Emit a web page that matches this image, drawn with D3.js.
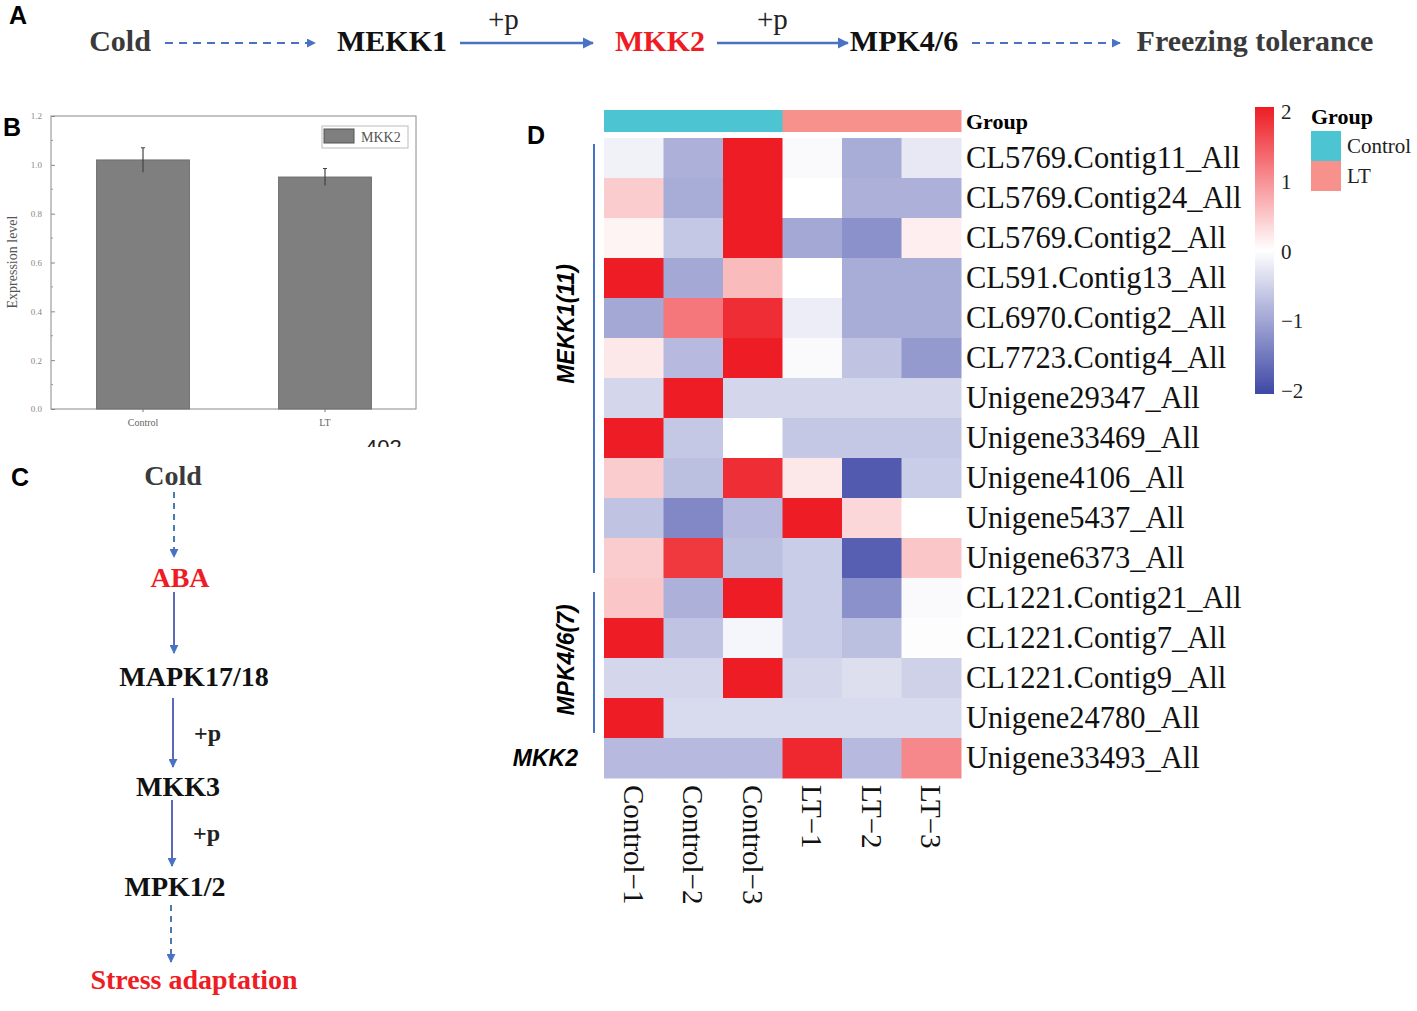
<!DOCTYPE html>
<html>
<head>
<meta charset="utf-8">
<title>MKK2 figure</title>
<script src="https://cdn.jsdelivr.net/npm/d3@7"></script>
<style>
  body { margin: 0; background: #fff; }
  svg { display: block; }
</style>
</head>
<body>
<script>
// ---- data ----
var genes = ["CL5769.Contig11_All", "CL5769.Contig24_All", "CL5769.Contig2_All", "CL591.Contig13_All",
  "CL6970.Contig2_All", "CL7723.Contig4_All", "Unigene29347_All", "Unigene33469_All", "Unigene4106_All",
  "Unigene5437_All", "Unigene6373_All", "CL1221.Contig21_All", "CL1221.Contig7_All", "CL1221.Contig9_All",
  "Unigene24780_All", "Unigene33493_All"];
var samples = ["Control−1", "Control−2", "Control−3", "LT−1", "LT−2", "LT−3"];
var sampleGroup = ["Control", "Control", "Control", "LT", "LT", "LT"];
var groupNames = ["Control", "LT"];
// z-scores, one row per gene, columns in sample order
var zscore = [
  [-0.15, -0.85, 2.0, -0.05, -0.9, -0.25],
  [0.45, -0.9, 2.0, 0.0, -0.85, -0.85],
  [0.1, -0.6, 2.0, -0.95, -1.2, 0.15],
  [2.0, -0.95, 0.6, 0.0, -0.9, -0.9],
  [-0.95, 1.2, 1.85, -0.2, -0.9, -0.9],
  [0.2, -0.75, 2.0, -0.05, -0.65, -1.1],
  [-0.45, 2.0, -0.45, -0.45, -0.45, -0.45],
  [2.0, -0.6, 0.0, -0.6, -0.6, -0.6],
  [0.45, -0.7, 1.85, 0.2, -1.8, -0.55],
  [-0.65, -1.3, -0.75, 2.0, 0.35, 0.0],
  [0.45, 1.75, -0.7, -0.55, -1.75, 0.5],
  [0.5, -0.85, 2.0, -0.55, -1.2, -0.05],
  [2.0, -0.65, -0.1, -0.55, -0.7, -0.02],
  [-0.45, -0.45, 2.0, -0.45, -0.35, -0.5],
  [2.0, -0.4, -0.4, -0.4, -0.4, -0.4],
  [-0.75, -0.75, -0.75, 1.9, -0.75, 1.05]
];
var geneFamilies = [["MEKK1(11)", 0, 10], ["MPK4/6(7)", 11, 14]];
var legendTicks = [2, 1, 0, -1, -2];

var barCats = ["Control", "LT"];
var barVals = [1.02, 0.95];
var barErr = [0.05, 0.035];
var barTicks = [0, 0.2, 0.4, 0.6, 0.8, 1.0, 1.2];

var pathA = ["Cold", "MEKK1", "MKK2", "MPK4/6", "Freezing tolerance"];
var pathC = ["Cold", "ABA", "MAPK17/18", "MKK3", "MPK1/2", "Stress adaptation"];

// ---- setup ----
var w = 1417, h = 1011;
var serif = "'Liberation Serif', 'Times New Roman', serif";
var sans = "'Liberation Sans', Arial, sans-serif";
var blueArrow = "#4a72c4";
var red = "#ee1c24";

var svg = d3.select("body").append("svg")
  .attr("width", w).attr("height", h);

var defs = svg.append("defs");
defs.append("marker")
  .attr("id", "head")
  .attr("viewBox", "0 0 10 10")
  .attr("refX", 9).attr("refY", 5)
  .attr("markerWidth", 4.5).attr("markerHeight", 4.5)
  .attr("orient", "auto")
  .append("path").attr("d", "M0,0 L10,5 L0,10 z").attr("fill", blueArrow);

function panelLetter(t, x, y) {
  svg.append("text").attr("x", x).attr("y", y)
    .attr("font-family", sans).attr("font-weight", "bold").attr("font-size", 25)
    .text(t);
}

// ---- panel A ----
panelLetter("A", 9, 24);
var aX = [120, 392, 660, 904, 1255];
var aColor = ["#3a3a3a", "#111", red, "#111", "#3a3a3a"];
svg.selectAll(".nodeA").data(pathA).enter().append("text")
  .attr("class", "nodeA")
  .attr("x", function(d, i) { return aX[i]; })
  .attr("y", 51)
  .attr("text-anchor", "middle")
  .attr("font-family", serif).attr("font-weight", "bold").attr("font-size", 30)
  .attr("fill", function(d, i) { return aColor[i]; })
  .text(function(d) { return d; });

// [x1, x2, dashed, +p label x]
var aArrows = [[165, 315, true], [460, 593, false, 488], [717, 848, false, 757], [972, 1120, true]];
aArrows.forEach(function(a) {
  svg.append("line")
    .attr("x1", a[0]).attr("x2", a[1]).attr("y1", 43).attr("y2", 43)
    .attr("stroke", blueArrow).attr("stroke-width", a[2] ? 2 : 2.5)
    .attr("stroke-dasharray", a[2] ? "8,6" : null)
    .attr("marker-end", "url(#head)");
  if (!a[2]) {
    svg.append("text").attr("x", a[3]).attr("y", 29)
      .attr("font-family", serif).attr("font-size", 29).attr("fill", "#222")
      .text("+p");
  }
});

// ---- panel B ----
panelLetter("B", 3, 136);
var bx = d3.scaleBand().domain(barCats).range([52, 416]).paddingInner(0.49).paddingOuter(0.245);
var by = d3.scaleLinear().domain([0, 1.2]).range([409, 116]);
var gB = svg.append("g");
gB.append("rect").attr("x", 51).attr("y", 116).attr("width", 365).attr("height", 293)
  .attr("fill", "none").attr("stroke", "#8a8a8a").attr("stroke-width", 1);

gB.selectAll(".bar").data(barVals).enter().append("rect")
  .attr("x", function(d, i) { return bx(barCats[i]); })
  .attr("y", function(d) { return by(d); })
  .attr("width", bx.bandwidth())
  .attr("height", function(d) { return by(0) - by(d); })
  .attr("fill", "#7f7f7f").attr("stroke", "#6e6e6e");

gB.selectAll(".err").data(barVals).enter().append("path")
  .attr("d", function(d, i) {
    var cx = bx(barCats[i]) + bx.bandwidth() / 2;
    return "M" + (cx - 2) + "," + by(d + barErr[i]) + "h4M" + cx + "," + by(d + barErr[i]) +
      "V" + by(d - barErr[i]);
  })
  .attr("stroke", "#444").attr("stroke-width", 1.2).attr("fill", "none");

var yAx = gB.append("g").attr("transform", "translate(51,0)")
  .call(d3.axisLeft(by).tickValues(barTicks).tickSize(-4).tickPadding(9)
    .tickFormat(d3.format(".1f")));
yAx.select(".domain").remove();
yAx.selectAll("line").attr("stroke", "#888");
yAx.selectAll("text").attr("font-family", serif).attr("font-size", 9).attr("fill", "#888");
// minor ticks
gB.selectAll(".minor").data(d3.range(0.1, 1.2, 0.2)).enter().append("line")
  .attr("x1", 51).attr("x2", 53)
  .attr("y1", function(d) { return by(d); }).attr("y2", function(d) { return by(d); })
  .attr("stroke", "#999");

var xAx = gB.append("g").attr("transform", "translate(0,409)")
  .call(d3.axisBottom(bx).tickSize(3).tickPadding(7));
xAx.select(".domain").remove();
xAx.selectAll("line").attr("stroke", "#777");
xAx.selectAll("text").attr("font-family", serif).attr("font-size", 10).attr("fill", "#666");

gB.append("text").attr("transform", "translate(17,262) rotate(-90)")
  .attr("text-anchor", "middle").attr("font-family", serif).attr("font-size", 14).attr("fill", "#555")
  .text("Expression level");

gB.append("rect").attr("x", 322).attr("y", 126).attr("width", 86).attr("height", 22)
  .attr("fill", "#fff").attr("stroke", "#bbb");
gB.append("rect").attr("x", 324).attr("y", 129).attr("width", 30).attr("height", 14)
  .attr("fill", "#7f7f7f").attr("stroke", "#555");
gB.append("text").attr("x", 361).attr("y", 142).attr("font-family", serif)
  .attr("font-size", 14).attr("fill", "#555").text("MKK2");

// clipped page number under panel B
defs.append("clipPath").attr("id", "pn").append("rect")
  .attr("x", 360).attr("y", 438).attr("width", 60).attr("height", 9);
svg.append("text").attr("x", 365).attr("y", 455).attr("clip-path", "url(#pn)")
  .attr("font-family", sans).attr("font-size", 22).attr("fill", "#222").text("402");

// ---- panel C ----
panelLetter("C", 11, 486);
var cX = [173, 180, 194, 178, 175, 194];
var cY = [476, 578, 677, 787, 887, 980];
var cColor = ["#3a3a3a", red, "#111", "#111", "#111", red];
svg.selectAll(".nodeC").data(pathC).enter().append("text")
  .attr("x", function(d, i) { return cX[i]; })
  .attr("y", function(d, i) { return cY[i] + 9; })
  .attr("text-anchor", "middle")
  .attr("font-family", serif).attr("font-weight", "bold").attr("font-size", 28)
  .attr("fill", function(d, i) { return cColor[i]; })
  .text(function(d) { return d; });

var cArrows = [[174, 492, 557, true], [174, 592, 653, false], [173, 698, 767, false],
  [172, 800, 866, false], [171, 905, 962, true]];
cArrows.forEach(function(a, i) {
  svg.append("line")
    .attr("x1", a[0]).attr("x2", a[0]).attr("y1", a[1]).attr("y2", a[2])
    .attr("stroke", a[3] ? "#4a7ab0" : "#5a6ab8").attr("stroke-width", 2)
    .attr("stroke-dasharray", a[3] ? "6,5" : null)
    .attr("marker-end", "url(#head)");
  if (i == 2 || i == 3) {
    svg.append("text").attr("x", a[0] + 21).attr("y", (a[1] + a[2]) / 2 + 8)
      .attr("font-family", serif).attr("font-weight", "bold").attr("font-size", 24)
      .attr("fill", "#222").text("+p");
  }
});

// ---- panel D: heatmap ----
panelLetter("D", 527, 144);
var hx = d3.scaleBand().domain(samples).range([604, 961]);
var hy = d3.scaleBand().domain(genes).range([138, 778]);
var color = d3.scaleLinear().domain([-2, 0, 2]).range(["#3e48a6", "#ffffff", red]);
var groupColor = d3.scaleOrdinal().domain(groupNames).range(["#4cc4d2", "#f6918b"]);

var cells = [];
zscore.forEach(function(row, i) {
  row.forEach(function(v, j) { cells.push({ gene: genes[i], sample: samples[j], v: v }); });
});
svg.selectAll(".cell").data(cells).enter().append("rect")
  .attr("x", function(d) { return hx(d.sample); })
  .attr("y", function(d) { return hy(d.gene); })
  .attr("width", hx.bandwidth() + 0.5)
  .attr("height", hy.bandwidth() + 0.5)
  .attr("fill", function(d) { return color(d.v); });

svg.selectAll(".grp").data(samples).enter().append("rect")
  .attr("x", function(d) { return hx(d); })
  .attr("y", 110)
  .attr("width", hx.bandwidth() + 0.5)
  .attr("height", 22)
  .attr("fill", function(d, i) { return groupColor(sampleGroup[i]); });
svg.append("text").attr("x", 966).attr("y", 129)
  .attr("font-family", serif).attr("font-weight", "bold").attr("font-size", 22).text("Group");

svg.selectAll(".rowlab").data(genes).enter().append("text")
  .attr("x", 966)
  .attr("y", function(d) { return hy(d) + hy.bandwidth() / 2 + 10; })
  .attr("font-family", serif).attr("font-size", 30.5).attr("fill", "#111")
  .text(function(d) { return d; });

svg.selectAll(".collab").data(samples).enter().append("text")
  .attr("transform", function(d) {
    return "translate(" + (hx(d) + hx.bandwidth() / 2 - 10) + ",785) rotate(90)";
  })
  .attr("font-family", serif).attr("font-size", 29).attr("fill", "#111")
  .text(function(d) { return d; });

// family brackets: [name, first row, last row], label centre and line top tuned to the figure
var famLabelY = [324, 660];
var famTop = [144, 592];
geneFamilies.forEach(function(f, k) {
  var y1 = hy(genes[f[2]]) + hy.bandwidth() - 5;
  svg.append("line").attr("x1", 594).attr("x2", 594).attr("y1", famTop[k]).attr("y2", y1)
    .attr("stroke", "#4a72c4").attr("stroke-width", 2);
  svg.append("text")
    .attr("transform", "translate(574," + famLabelY[k] + ") rotate(-90)")
    .attr("text-anchor", "middle")
    .attr("font-family", sans).attr("font-weight", "bold").attr("font-style", "italic")
    .attr("font-size", 23).text(f[0]);
});
svg.append("text").attr("x", 578).attr("y", hy(genes[15]) + hy.bandwidth() / 2 + 8)
  .attr("text-anchor", "end")
  .attr("font-family", sans).attr("font-weight", "bold").attr("font-style", "italic")
  .attr("font-size", 23).text("MKK2");

// colour key
var grad = defs.append("linearGradient").attr("id", "ramp")
  .attr("x1", 0).attr("x2", 0).attr("y1", 1).attr("y2", 0);
d3.range(-2, 2.01, 0.25).forEach(function(v) {
  grad.append("stop").attr("offset", ((v + 2) / 4 * 100) + "%").attr("stop-color", color(v));
});
var ky = d3.scaleLinear().domain([-2, 2]).range([391, 112]);
svg.append("rect").attr("x", 1255).attr("y", 107).attr("width", 19).attr("height", 287)
  .attr("fill", "url(#ramp)");
svg.selectAll(".ktick").data(legendTicks).enter().append("text")
  .attr("x", 1281)
  .attr("y", function(d) { return ky(d) + 7; })
  .attr("font-family", serif).attr("font-size", 21).attr("fill", "#222")
  .text(function(d) { return d < 0 ? "−" + Math.abs(d) : d; });

svg.append("text").attr("x", 1311).attr("y", 124)
  .attr("font-family", serif).attr("font-weight", "bold").attr("font-size", 22).text("Group");
svg.selectAll(".gkey").data(groupNames).enter().append("rect")
  .attr("x", 1311).attr("y", function(d, i) { return 131 + i * 30; })
  .attr("width", 30).attr("height", 30)
  .attr("fill", function(d) { return groupColor(d); });
svg.selectAll(".gkeyt").data(groupNames).enter().append("text")
  .attr("x", 1347).attr("y", function(d, i) { return 153 + i * 30; })
  .attr("font-family", serif).attr("font-size", 21).attr("fill", "#222")
  .text(function(d) { return d; });
</script>
</body>
</html>
